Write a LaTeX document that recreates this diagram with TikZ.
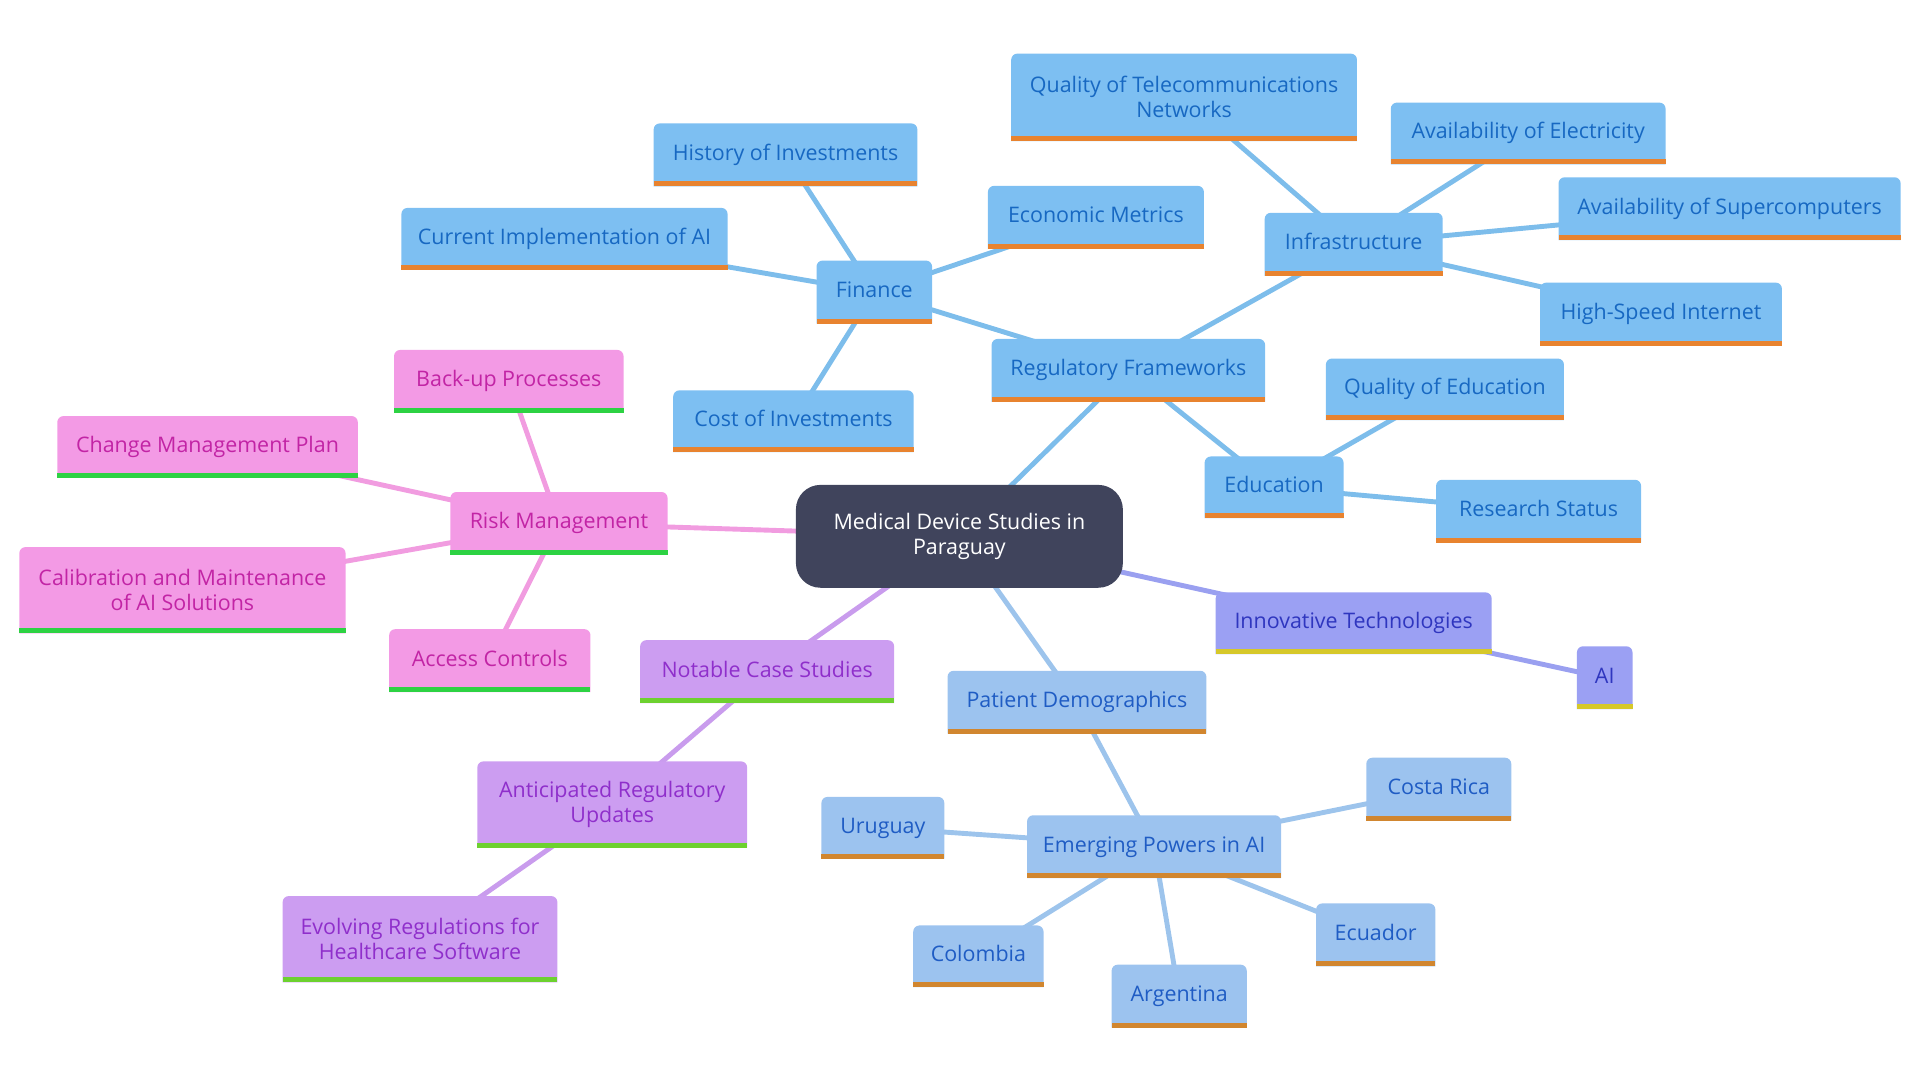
\documentclass[tikz,border=0pt]{standalone}
\usepackage{fontspec}
\setmainfont{Open Sans}
\pgfdeclarelayer{edgelayer}
\pgfdeclarelayer{boxlayer}
\pgfsetlayers{edgelayer,boxlayer,main}
\definecolor{bfill}{HTML}{7DBFF2}
\definecolor{btext}{HTML}{1768C2}
\definecolor{bstripe}{HTML}{E8832F}
\definecolor{bline}{HTML}{7DBDEB}
\definecolor{lfill}{HTML}{9CC3EF}
\definecolor{ltext}{HTML}{1F5CC4}
\definecolor{lstripe}{HTML}{D1862F}
\definecolor{lline}{HTML}{9DC4EC}
\definecolor{pfill}{HTML}{F39AE5}
\definecolor{ptext}{HTML}{C224A5}
\definecolor{pstripe}{HTML}{2DD243}
\definecolor{pline}{HTML}{F19CE0}
\definecolor{vfill}{HTML}{CC9DF1}
\definecolor{vtext}{HTML}{8F2FCB}
\definecolor{vstripe}{HTML}{6DD12F}
\definecolor{vline}{HTML}{C99CED}
\definecolor{ifill}{HTML}{9BA0F3}
\definecolor{itext}{HTML}{2F36BF}
\definecolor{istripe}{HTML}{D6C82A}
\definecolor{iline}{HTML}{9AA0F0}
\definecolor{cfill}{HTML}{40445C}
\newcommand\mmfont{\fontsize{17.5}{20.5}\selectfont}
\tikzset{
  mmtext/.style={inner sep=0pt, align=center, font=\mmfont, text height=13pt, text depth=4pt},
  mmtwo/.style={inner sep=0pt, align=center, font=\mmfont},
  link/.style={line width=4pt},
}
% #1 name, #2 x, #3 y, #4 w, #5 h, #6 group prefix, #7 style, #8 text
\newcommand\mmnode[8]{%
  \node[#7, minimum width=#4pt, minimum height=#5pt, text=#6text] (#1) at (#2,#3) {#8};
  \begin{pgfonlayer}{boxlayer}
    \fill[#6fill] (#1.south west) [rounded corners=5pt] -- (#1.north west) -- (#1.north east) [sharp corners] -- (#1.south east) -- cycle;
    \fill[#6stripe] (#1.south west) rectangle ([yshift=4pt]#1.south east);
  \end{pgfonlayer}}
\begin{document}
\begin{tikzpicture}[x=1pt,y=-1pt]
\useasboundingbox (0,0) rectangle (1568,882);
% central
\node[fill=cfill, rounded corners=20pt, minimum width=267pt, minimum height=84pt, inner sep=0pt, align=center, font=\mmfont, text=white] (central) at (783.5,438) {Medical Device Studies in\\Paraguay};
% blue group
\mmnode{reg}{921.5}{302.5}{223}{51}{b}{mmtext}{Regulatory Frameworks}
\mmnode{fin}{714}{238.5}{94}{51}{b}{mmtext}{Finance}
\mmnode{hist}{641.5}{126.5}{215}{51}{b}{mmtext}{History of Investments}
\mmnode{cur}{461}{195}{266}{50}{b}{mmtext}{Current Implementation of AI}
\mmnode{eco}{895}{177.5}{176}{51}{b}{mmtext}{Economic Metrics}
\mmnode{cost}{648}{344}{196}{50}{b}{mmtext}{Cost of Investments}
\mmnode{infra}{1105.5}{199.5}{145}{51}{b}{mmtext}{Infrastructure}
\mmnode{tele}{967}{79.5}{282}{71}{b}{mmtwo}{Quality of Telecommunications\\Networks}
\mmnode{elec}{1248}{109}{224}{50}{b}{mmtext}{Availability of Electricity}
\mmnode{super}{1412.5}{170.5}{279}{51}{b}{mmtext}{Availability of Supercomputers}
\mmnode{hsi}{1356.5}{256.5}{197}{51}{b}{mmtext}{High-Speed Internet}
\mmnode{edu}{1040.5}{398}{113}{50}{b}{mmtext}{Education}
\mmnode{qedu}{1180}{318}{194}{50}{b}{mmtext}{Quality of Education}
\mmnode{res}{1256.5}{417.5}{167}{51}{b}{mmtext}{Research Status}
% indigo
\mmnode{inno}{1105.5}{509}{225}{50}{i}{mmtext}{Innovative Technologies}
\mmnode{ai}{1310.5}{553.5}{45}{51}{i}{mmtext}{AI}
% light blue
\mmnode{pat}{879.5}{573.5}{211}{51}{l}{mmtext}{Patient Demographics}
\mmnode{emer}{942.5}{691.5}{207}{51}{l}{mmtext}{Emerging Powers in AI}
\mmnode{uru}{721}{676}{100}{50}{l}{mmtext}{Uruguay}
\mmnode{cr}{1175}{644.5}{118}{51}{l}{mmtext}{Costa Rica}
\mmnode{ecu}{1123.5}{763.5}{97}{51}{l}{mmtext}{Ecuador}
\mmnode{col}{799}{781}{106}{50}{l}{mmtext}{Colombia}
\mmnode{arg}{963}{813.5}{110}{51}{l}{mmtext}{Argentina}
% pink
\mmnode{risk}{456.5}{427.5}{177}{51}{p}{mmtext}{Risk Management}
\mmnode{back}{415.5}{311.5}{187}{51}{p}{mmtext}{Back-up Processes}
\mmnode{chg}{169.5}{365}{245}{50}{p}{mmtext}{Change Management Plan}
\mmnode{cal}{149}{482}{266}{70}{p}{mmtwo}{Calibration and Maintenance\\of AI Solutions}
\mmnode{acc}{400}{539.5}{164}{51}{p}{mmtext}{Access Controls}
% purple
\mmnode{nota}{626.5}{548.5}{207}{51}{v}{mmtext}{Notable Case Studies}
\mmnode{ant}{500}{657}{220}{70}{v}{mmtwo}{Anticipated Regulatory\\Updates}
\mmnode{evo}{343}{767}{224}{70}{v}{mmtwo}{Evolving Regulations for\\Healthcare Software}
% edges
\begin{pgfonlayer}{edgelayer}
\draw[link, bline] (central.center) -- (reg.center);
\draw[link, bline] (reg.center) -- (fin.center);
\draw[link, bline] (reg.center) -- (infra.center);
\draw[link, bline] (reg.center) -- (edu.center);
\draw[link, bline] (fin.center) -- (hist.center);
\draw[link, bline] (fin.center) -- (cur.center);
\draw[link, bline] (fin.center) -- (eco.center);
\draw[link, bline] (fin.center) -- (cost.center);
\draw[link, bline] (infra.center) -- (tele.center);
\draw[link, bline] (infra.center) -- (elec.center);
\draw[link, bline] (infra.center) -- (super.center);
\draw[link, bline] (infra.center) -- (hsi.center);
\draw[link, bline] (edu.center) -- (qedu.center);
\draw[link, bline] (edu.center) -- (res.center);
\draw[link, iline] (central.center) -- (inno.center);
\draw[link, iline] (inno.center) -- (ai.center);
\draw[link, lline] (central.center) -- (pat.center);
\draw[link, lline] (pat.center) -- (emer.center);
\draw[link, lline] (emer.center) -- (uru.center);
\draw[link, lline] (emer.center) -- (cr.center);
\draw[link, lline] (emer.center) -- (ecu.center);
\draw[link, lline] (emer.center) -- (col.center);
\draw[link, lline] (emer.center) -- (arg.center);
\draw[link, pline] (central.center) -- (risk.center);
\draw[link, pline] (risk.center) -- (back.center);
\draw[link, pline] (risk.center) -- (chg.center);
\draw[link, pline] (risk.center) -- (cal.center);
\draw[link, pline] (risk.center) -- (acc.center);
\draw[link, vline] (central.center) -- (nota.center);
\draw[link, vline] (nota.center) -- (ant.center);
\draw[link, vline] (ant.center) -- (evo.center);
\end{pgfonlayer}
\end{tikzpicture}
\end{document}
